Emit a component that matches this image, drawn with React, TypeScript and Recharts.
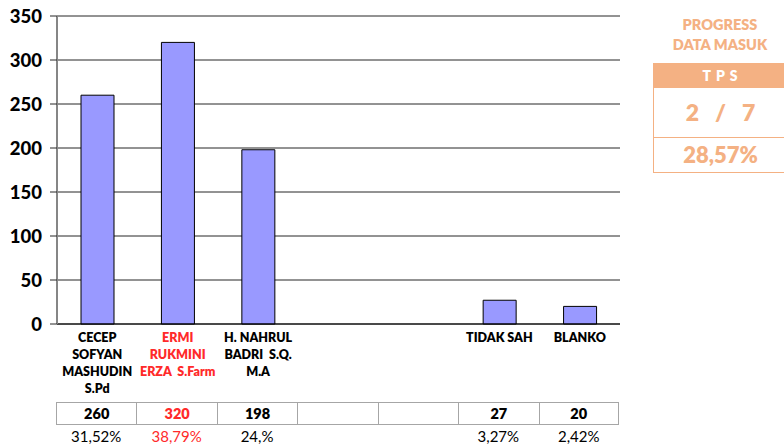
import React from "react";
import { BarChart, Bar, XAxis, YAxis, CartesianGrid } from "recharts";

const categories = [
  "CECEP\nSOFYAN\nMASHUDIN\nS.Pd",
  "ERMI\nRUKMINI\nERZA  S.Farm",
  "H. NAHRUL\nBADRI  S.Q.\nM.A",
  "",
  "",
  "TIDAK SAH",
  "BLANKO",
];
const votes: (number | null)[] = [260, 320, 198, null, null, 27, 20];
const voteLabels = ["260", "320", "198", "", "", "27", "20"];
const percentLabels = ["31,52%", "38,79%", "24,%", "", "", "3,27%", "2,42%"];
const highlightIndex = 1;
const yTicks = [0, 50, 100, 150, 200, 250, 300, 350];
const tpsIn = 2;
const tpsTotal = 7;
const tpsPercent = "28,57%";

const data = categories.map((c, i) => ({ name: c, idx: i, value: votes[i] }));

const FONT = "Lato, 'Open Sans', 'Liberation Sans', sans-serif";
const RED = "#FF2A2A";
const ORANGE = "#F4B183";

const PLOT_L = 57;
const PLOT_R = 620;
const COL_W = (PLOT_R - PLOT_L) / categories.length;

const XTick = (props: any) => {
  const { x, y, payload } = props;
  const i = payload.index;
  const lines = String(categories[i] || "").split("\n");
  return (
    <g transform={`translate(${x},${y})`}>
      {lines.map((ln, k) => (
        <text
          key={k}
          x={0}
          y={k * 17}
          dy={8}
          textAnchor="middle"
          fontFamily={FONT}
          fontWeight={800}
          fontSize={12.5}
          fill={i === highlightIndex ? RED : "#000"}
        >
          {ln.replace(/  /g, " \u00A0")}
        </text>
      ))}
    </g>
  );
};

export default function App() {
  return (
    <div style={{ position: "fixed", left: 0, top: 0, width: 784, height: 444, background: "#fff", overflow: "hidden" }}>
      <BarChart
        width={784}
        height={444}
        data={data}
        margin={{ top: 16, right: 784 - PLOT_R, left: 0, bottom: 40 }}
        barCategoryGap={0}
      >
        <CartesianGrid vertical={false} stroke="#262626" strokeWidth={1} />
        <XAxis
          dataKey="idx"
          tickLine={false}
          axisLine={{ stroke: "#000", strokeWidth: 1 }}
          tick={<XTick />}
          height={80}
          interval={0}
          tickMargin={4}
        />
        <YAxis
          width={PLOT_L}
          domain={[0, 350]}
          ticks={yTicks}
          interval={0}
          tickSize={7}
          tickMargin={8}
          axisLine={{ stroke: "#868686", strokeWidth: 2 }}
          tickLine={{ stroke: "#262626" }}
          tick={{ fontFamily: FONT, fontWeight: 900, fontSize: 18.5, fill: "#000" }}
        />
        <Bar
          dataKey="value"
          fill="#9999FF"
          stroke="#000"
          strokeWidth={1}
          barSize={33}
          isAnimationActive={false}
        />
      </BarChart>

      {/* data table */}
      <div style={{ position: "absolute", left: PLOT_L - 1, top: 402, display: "flex" }}>
        {voteLabels.map((v, i) => (
          <div
            key={i}
            style={{
              width: COL_W,
              height: 23,
              boxSizing: "border-box",
              borderTop: "1px solid #A6A6A6",
              borderBottom: "1px solid #A6A6A6",
              borderLeft: "1px solid #A6A6A6",
              borderRight: i === voteLabels.length - 1 ? "1px solid #A6A6A6" : "none",
              textAlign: "center",
              fontFamily: FONT,
              fontWeight: 800,
              fontSize: 14.5,
              lineHeight: "22px",
              color: i === highlightIndex ? RED : "#000",
            }}
          >
            {v}
          </div>
        ))}
      </div>
      <div style={{ position: "absolute", left: PLOT_L - 1, top: 426, display: "flex" }}>
        {percentLabels.map((v, i) => (
          <div
            key={i}
            style={{
              width: COL_W,
              textAlign: "center",
              fontFamily: FONT,
              fontSize: 15,
              lineHeight: "20px",
              color: i === highlightIndex ? RED : "#000",
            }}
          >
            {v}
          </div>
        ))}
      </div>

      {/* progress panel */}
      <div style={{ position: "absolute", left: 653, top: 15, width: 134, fontFamily: FONT, color: ORANGE, textAlign: "center" }}>
        <div style={{ fontWeight: 800, fontSize: 14.5, lineHeight: "20px" }}>
          PROGRESS
          <br />
          DATA MASUK
        </div>
      </div>
      <div style={{ position: "absolute", left: 653, top: 63, width: 134, fontFamily: FONT, textAlign: "center" }}>
        <div style={{ background: ORANGE, color: "#fff", fontWeight: 800, fontSize: 14, height: 25, lineHeight: "25px", letterSpacing: 5, paddingLeft: 5, boxSizing: "border-box" }}>
          TPS
        </div>
        <div
          style={{
            boxSizing: "border-box",
            height: 50,
            borderLeft: `1px solid ${ORANGE}`,
            borderBottom: `1px solid ${ORANGE}`,
            color: ORANGE,
            fontWeight: 800,
            fontSize: 23,
            lineHeight: "48px",
            whiteSpace: "pre",
          }}
        >
          {`${tpsIn}   /   ${tpsTotal}`}
        </div>
        <div
          style={{
            boxSizing: "border-box",
            height: 35,
            borderLeft: `1px solid ${ORANGE}`,
            borderBottom: `1px solid ${ORANGE}`,
            color: ORANGE,
            fontWeight: 800,
            fontSize: 22,
            lineHeight: "34px",
          }}
        >
          {tpsPercent}
        </div>
      </div>
    </div>
  );
}
